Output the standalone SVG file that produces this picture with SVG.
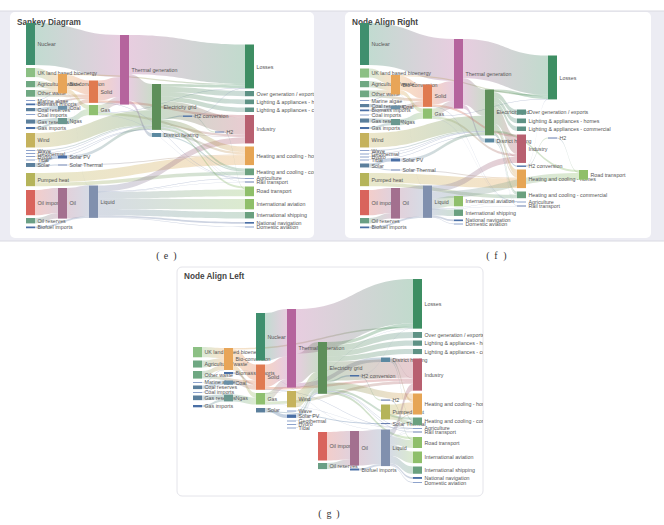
<svg xmlns="http://www.w3.org/2000/svg" width="664" height="525" viewBox="0 0 664 525">
<style>
.lk path{fill-opacity:.32}
.lk path.t{fill:#9aa8c4;fill-opacity:.55}
text{font-family:"Liberation Sans",Arial,sans-serif;font-size:5.3px;fill:#555;dominant-baseline:central}
text.ttl{font-size:8.2px;font-weight:bold;fill:#444;dominant-baseline:auto}
text.cap{font-family:"Liberation Serif","Times New Roman",serif;font-size:10px;fill:#333;text-anchor:middle;dominant-baseline:auto}
.nu{fill:#3f8f6e}.uk{fill:#8cc084}.aw{fill:#6fa882}.lb{fill:#8ea3cc}.db{fill:#4a6fa5}.cr{fill:#5b7f9c}.wi{fill:#c5b25c}.pu{fill:#b5b45a}.oi{fill:#d9645c}.or{fill:#6a9f85}.bc{fill:#e8a558}.co{fill:#6a90a8}.ng{fill:#6a9890}.mb{fill:#6a80b0}.ol{fill:#a3708f}.so{fill:#e07a50}.ga{fill:#8fc070}.lq{fill:#8090ae}.tg{fill:#b5649d}.eg{fill:#5e8f5a}.dh{fill:#5a88a0}.ls{fill:#3e8e63}.tl{fill:#5e9285}.in{fill:#b86070}.hh{fill:#e6a555}.hc{fill:#6aa07f}.rd{fill:#8fbf6a}
</style>
<defs>
<clipPath id="clipE"><rect x="10" y="12" width="304" height="226"/></clipPath>
<clipPath id="clipF"><rect x="345" y="12" width="306" height="226"/></clipPath>
<clipPath id="clipG"><rect x="177" y="267" width="306" height="229"/></clipPath>
<linearGradient id="Gnt"><stop offset="0" stop-color="#3f8f6e"/><stop offset="1" stop-color="#b5649d"/></linearGradient>
<linearGradient id="Gub"><stop offset="0" stop-color="#8cc084"/><stop offset="1" stop-color="#e8a558"/></linearGradient>
<linearGradient id="Gwb"><stop offset="0" stop-color="#6fa882"/><stop offset="1" stop-color="#e8a558"/></linearGradient>
<linearGradient id="Gws"><stop offset="0" stop-color="#6fa882"/><stop offset="1" stop-color="#e07a50"/></linearGradient>
<linearGradient id="Gbs"><stop offset="0" stop-color="#4a6fa5"/><stop offset="1" stop-color="#e07a50"/></linearGradient>
<linearGradient id="Gcc"><stop offset="0" stop-color="#5b7f9c"/><stop offset="1" stop-color="#6a90a8"/></linearGradient>
<linearGradient id="Ggn"><stop offset="0" stop-color="#5b7f95"/><stop offset="1" stop-color="#6a9890"/></linearGradient>
<linearGradient id="Gwe"><stop offset="0" stop-color="#c5b25c"/><stop offset="1" stop-color="#5e8f5a"/></linearGradient>
<linearGradient id="Gxe"><stop offset="0" stop-color="#7a90bb"/><stop offset="1" stop-color="#5e8f5a"/></linearGradient>
<linearGradient id="Gsp"><stop offset="0" stop-color="#5b7f95"/><stop offset="1" stop-color="#4a6fa5"/></linearGradient>
<linearGradient id="Gph"><stop offset="0" stop-color="#b5b45a"/><stop offset="1" stop-color="#e6a555"/></linearGradient>
<linearGradient id="Gpc"><stop offset="0" stop-color="#b5b45a"/><stop offset="1" stop-color="#6aa07f"/></linearGradient>
<linearGradient id="Goo"><stop offset="0" stop-color="#d9645c"/><stop offset="1" stop-color="#a3708f"/></linearGradient>
<linearGradient id="Gro"><stop offset="0" stop-color="#6a9f85"/><stop offset="1" stop-color="#a3708f"/></linearGradient>
<linearGradient id="Gbl"><stop offset="0" stop-color="#4a6fa5"/><stop offset="1" stop-color="#8090ae"/></linearGradient>
<linearGradient id="Gbo"><stop offset="0" stop-color="#e8a558"/><stop offset="1" stop-color="#e07a50"/></linearGradient>
<linearGradient id="Gbg"><stop offset="0" stop-color="#e8a558"/><stop offset="1" stop-color="#8fc070"/></linearGradient>
<linearGradient id="GbL"><stop offset="0" stop-color="#e8a558"/><stop offset="1" stop-color="#3e8e63"/></linearGradient>
<linearGradient id="Gcs"><stop offset="0" stop-color="#6a90a8"/><stop offset="1" stop-color="#e07a50"/></linearGradient>
<linearGradient id="Gng"><stop offset="0" stop-color="#6a9890"/><stop offset="1" stop-color="#8fc070"/></linearGradient>
<linearGradient id="Gth"><stop offset="0" stop-color="#6a80b0"/><stop offset="1" stop-color="#e6a555"/></linearGradient>
<linearGradient id="Gol"><stop offset="0" stop-color="#a3708f"/><stop offset="1" stop-color="#8090ae"/></linearGradient>
<linearGradient id="Gst"><stop offset="0" stop-color="#e07a50"/><stop offset="1" stop-color="#b5649d"/></linearGradient>
<linearGradient id="Gsi"><stop offset="0" stop-color="#e07a50"/><stop offset="1" stop-color="#b86070"/></linearGradient>
<linearGradient id="Ggt"><stop offset="0" stop-color="#8fc070"/><stop offset="1" stop-color="#b5649d"/></linearGradient>
<linearGradient id="Ggi"><stop offset="0" stop-color="#8fc070"/><stop offset="1" stop-color="#b86070"/></linearGradient>
<linearGradient id="Gli"><stop offset="0" stop-color="#8090ae"/><stop offset="1" stop-color="#b86070"/></linearGradient>
<linearGradient id="Glr"><stop offset="0" stop-color="#8090ae"/><stop offset="1" stop-color="#8fbf6a"/></linearGradient>
<linearGradient id="Gls"><stop offset="0" stop-color="#8090ae"/><stop offset="1" stop-color="#6aa07f"/></linearGradient>
<linearGradient id="Gln"><stop offset="0" stop-color="#8090ae"/><stop offset="1" stop-color="#5a70a0"/></linearGradient>
<linearGradient id="Gtl"><stop offset="0" stop-color="#b5649d"/><stop offset="1" stop-color="#3e8e63"/></linearGradient>
<linearGradient id="Gte"><stop offset="0" stop-color="#b5649d"/><stop offset="1" stop-color="#5e8f5a"/></linearGradient>
<linearGradient id="Gtd"><stop offset="0" stop-color="#b5649d"/><stop offset="1" stop-color="#5a88a0"/></linearGradient>
<linearGradient id="Gel"><stop offset="0" stop-color="#5e8f5a"/><stop offset="1" stop-color="#3e8e63"/></linearGradient>
<linearGradient id="Geo"><stop offset="0" stop-color="#5e8f5a"/><stop offset="1" stop-color="#5e9285"/></linearGradient>
<linearGradient id="Gei"><stop offset="0" stop-color="#5e8f5a"/><stop offset="1" stop-color="#b86070"/></linearGradient>
<linearGradient id="Geh"><stop offset="0" stop-color="#5e8f5a"/><stop offset="1" stop-color="#e6a555"/></linearGradient>
<linearGradient id="Gec"><stop offset="0" stop-color="#5e8f5a"/><stop offset="1" stop-color="#6aa07f"/></linearGradient>
<linearGradient id="Ger"><stop offset="0" stop-color="#5e8f5a"/><stop offset="1" stop-color="#8fbf6a"/></linearGradient>
<linearGradient id="Gex"><stop offset="0" stop-color="#5e8f5a"/><stop offset="1" stop-color="#4a6fa5"/></linearGradient>
<linearGradient id="Gdi"><stop offset="0" stop-color="#5a88a0"/><stop offset="1" stop-color="#b86070"/></linearGradient>
<linearGradient id="Gdh"><stop offset="0" stop-color="#5a88a0"/><stop offset="1" stop-color="#e6a555"/></linearGradient>
<linearGradient id="Gdc"><stop offset="0" stop-color="#5a88a0"/><stop offset="1" stop-color="#6aa07f"/></linearGradient>
<linearGradient id="Ghh"><stop offset="0" stop-color="#5a78aa"/><stop offset="1" stop-color="#8fbf6a"/></linearGradient>
</defs>

<rect width="664" height="525" fill="#fff"/>
<rect x="0" y="11" width="664" height="230" fill="#ececf3"/>
<line x1="0" y1="11" x2="664" y2="11" stroke="#dadae2" stroke-width="1"/>
<line x1="0" y1="241" x2="664" y2="241" stroke="#dadae2" stroke-width="1"/>
<rect x="10" y="12" width="304" height="226" rx="5" fill="#fff"/>
<rect x="345" y="12" width="306" height="226" rx="5" fill="#fff"/>
<rect x="177" y="267" width="306" height="229" rx="5" fill="#fff" stroke="#e4e4ea" stroke-width="1"/>

<!-- ================= PANEL E ================= -->
<g id="panel-e" clip-path="url(#clipE)">
<text class="ttl" x="17" y="25">Sankey Diagram</text>
<g id="e-links" class="lk">
<path fill="url(#Gnt)" d="M35 23C77.5 23 77.5 35 120 35V77C77.5 77 77.5 65 35 65Z"/>
<path fill="url(#Gub)" d="M35 68C46.5 68 46.5 74 58 74V83.1C46.5 83.1 46.5 77.1 35 77.1Z"/>
<path fill="url(#Gwb)" d="M35 81C46.5 81 46.5 83.1 58 83.1V89.34C46.5 89.34 46.5 87.24 35 87.24Z"/>
<path fill="url(#Gwb)" d="M35 90C46.5 90 46.5 89.34 58 89.34V93.23C46.5 93.23 46.5 93.89 35 93.89Z"/>
<path fill="url(#Gws)" d="M35 93.89C62 93.89 62 94.52 89 94.52V97.35C62 97.35 62 96.72 35 96.72Z"/>
<path class="t" d="M35 100C46.5 100 46.5 93.23 58 93.23V93.8C46.5 93.8 46.5 100.6 35 100.6Z"/>
<path fill="url(#Gbs)" d="M35 103.5C62 103.5 62 97.35 89 97.35V99.1C62 99.1 62 105.25 35 105.25Z"/>
<path fill="url(#Gcc)" d="M35 108C46.5 108 46.5 106 58 106V109.2C46.5 109.2 46.5 111.2 35 111.2Z"/>
<path class="t" d="M35 114C46.5 114 46.5 109.2 58 109.2V109.8C46.5 109.8 46.5 114.6 35 114.6Z"/>
<path fill="url(#Ggn)" d="M35 119.5C46.5 119.5 46.5 118 58 118V122.11C46.5 122.11 46.5 123.61 35 123.61Z"/>
<path fill="url(#Ggn)" d="M35 127C46.5 127 46.5 122.11 58 122.11V124.15C46.5 124.15 46.5 129.04 35 129.04Z"/>
<path fill="url(#Gwe)" d="M35 133C93.5 133 93.5 110.28 152 110.28V124.75C93.5 124.75 93.5 147.47 35 147.47Z"/>
<path fill="url(#Gxe)" d="M35 150C93.5 150 93.5 124.75 152 124.75V125.7C93.5 125.7 93.5 150.95 35 150.95Z"/>
<path class="t" d="M35 153C93.5 153 93.5 125.7 152 125.7V126.2C93.5 126.2 93.5 153.5 35 153.5Z"/>
<path class="t" d="M35 156C93.5 156 93.5 129.05 152 129.05V129.55C93.5 129.55 93.5 156.5 35 156.5Z"/>
<path class="t" d="M35 159.5C93.5 159.5 93.5 129.4 152 129.4V129.9C93.5 129.9 93.5 160 35 160Z"/>
<path fill="url(#Gsp)" d="M35 163C46.5 163 46.5 155.5 58 155.5V158.5C46.5 158.5 46.5 166 35 166Z"/>
<path fill="url(#Gsp)" d="M35 166C46.5 166 46.5 164.5 58 164.5V165.46C46.5 165.46 46.5 166.96 35 166.96Z"/>
<path fill="url(#Gph)" d="M35 173C140 173 140 155.46 245 155.46V165.11C140 165.11 140 182.65 35 182.65Z"/>
<path fill="url(#Gpc)" d="M35 182.65C140 182.65 140 171.68 245 171.68V175.21C140 175.21 140 186.18 35 186.18Z"/>
<path fill="url(#Goo)" d="M35 190C46.5 190 46.5 188 58 188V213.2C46.5 213.2 46.5 215.2 35 215.2Z"/>
<path fill="url(#Gro)" d="M35 218C46.5 218 46.5 213.2 58 213.2V218.59C46.5 218.59 46.5 223.39 35 223.39Z"/>
<path fill="url(#Gbl)" d="M35 226.5C62 226.5 62 216.13 89 216.13V217.88C62 217.88 62 228.25 35 228.25Z"/>
<path fill="url(#GbL)" d="M67 74C156 74 156 83.86 245 83.86V85.2C156 85.2 156 75.34 67 75.34Z"/>
<path fill="url(#Gbo)" d="M67 75.34C78 75.34 78 80.5 89 80.5V94.52C78 94.52 78 89.36 67 89.36Z"/>
<path fill="url(#Gbg)" d="M67 89.36C78 89.36 78 105 89 105V109.06C78 109.06 78 93.42 67 93.42Z"/>
<path class="t" d="M67 93.42C78 93.42 78 185.5 89 185.5V185.8C78 185.8 78 93.72 67 93.72Z"/>
<path fill="url(#Gcs)" d="M67 106C78 106 78 99.1 89 99.1V102.88C78 102.88 78 109.78 67 109.78Z"/>
<path fill="url(#Gng)" d="M67 118C78 118 78 109.06 89 109.06V115.21C78 115.21 78 124.15 67 124.15Z"/>
<path fill="url(#Gxe)" d="M67 155.5C109.5 155.5 109.5 126.05 152 126.05V129.05C109.5 129.05 109.5 158.5 67 158.5Z"/>
<path fill="url(#Gth)" d="M67 164.5C156 164.5 156 154.5 245 154.5V155.46C156 155.46 156 165.46 67 165.46Z"/>
<path fill="url(#Gol)" d="M67 188C78 188 78 185.53 89 185.53V216.13C78 216.13 78 218.6 67 218.6Z"/>
<path fill="url(#Gst)" d="M98 80.5C109 80.5 109 77 120 77V97C109 97 109 100.5 98 100.5Z"/>
<path fill="url(#Gsi)" d="M98 100.5C171.5 100.5 171.5 115 245 115V117.32C171.5 117.32 171.5 102.82 98 102.82Z"/>
<path class="t" d="M98 102.6C171.5 102.6 171.5 178 245 178V178.4C171.5 178.4 171.5 103 98 103Z"/>
<path fill="url(#Ggt)" d="M98 105C109 105 109 97 120 97V104.59C109 104.59 109 112.59 98 112.59Z"/>
<path class="t" d="M98 112.6C171.5 112.6 171.5 88 245 88V88.4C171.5 88.4 171.5 113 98 113Z"/>
<path fill="url(#Ggi)" d="M98 112.66C171.5 112.66 171.5 134.42 245 134.42V136.85C171.5 136.85 171.5 115.09 98 115.09Z"/>
<path class="t" d="M98 114.9C171.5 114.9 171.5 178.1 245 178.1V178.5C171.5 178.5 171.5 115.3 98 115.3Z"/>
<path fill="url(#Gli)" d="M98 185.5C171.5 185.5 171.5 137.38 245 137.38V143.43C171.5 143.43 171.5 191.55 98 191.55Z"/>
<path class="t" d="M98 191.55C171.5 191.55 171.5 178.36 245 178.36V178.76C171.5 178.76 171.5 191.95 98 191.95Z"/>
<path class="t" d="M98 191.73C171.5 191.73 171.5 181.89 245 181.89V182.3C171.5 182.3 171.5 192.13 98 192.13Z"/>
<path fill="url(#Glr)" d="M98 191.95C171.5 191.95 171.5 189.43 245 189.43V196.22C171.5 196.22 171.5 198.74 98 198.74Z"/>
<path fill="url(#Glr)" d="M98 198.74C171.5 198.74 171.5 199 245 199V209.31C171.5 209.31 171.5 209.05 98 209.05Z"/>
<path fill="url(#Gls)" d="M98 209.05C171.5 209.05 171.5 212 245 212V218.43C171.5 218.43 171.5 215.48 98 215.48Z"/>
<path fill="url(#Gln)" d="M98 215.48C171.5 215.48 171.5 222 245 222V223.66C171.5 223.66 171.5 217.14 98 217.14Z"/>
<path fill="url(#Gln)" d="M98 217.14C171.5 217.14 171.5 226.5 245 226.5V227.22C171.5 227.22 171.5 217.86 98 217.86Z"/>
<path fill="url(#Gtl)" d="M129 35C187 35 187 44.5 245 44.5V83.86C187 83.86 187 74.36 129 74.36Z"/>
<path fill="url(#Gte)" d="M129 74.36C140.5 74.36 140.5 84 152 84V110.28C140.5 110.28 140.5 100.64 129 100.64Z"/>
<path fill="url(#Gtd)" d="M129 100.64C140.5 100.64 140.5 133 152 133V136.97C140.5 136.97 140.5 104.61 129 104.61Z"/>
<path fill="url(#Gel)" d="M161 84C203 84 203 85.2 245 85.2V88.03C203 88.03 203 86.83 161 86.83Z"/>
<path fill="url(#Geo)" d="M161 86.83C203 86.83 203 91 245 91V96.22C203 96.22 203 92.05 161 92.05Z"/>
<path fill="url(#Geo)" d="M161 92.05C203 92.05 203 99.5 245 99.5V104.17C203 104.17 203 96.72 161 96.72Z"/>
<path fill="url(#Geo)" d="M161 96.72C203 96.72 203 107.5 245 107.5V112C203 112 203 101.22 161 101.22Z"/>
<path fill="url(#Gei)" d="M161 101.22C203 101.22 203 117.32 245 117.32V134.42C203 134.42 203 118.32 161 118.32Z"/>
<path fill="url(#Gex)" d="M161 118.32C172 118.32 172 115.5 183 115.5V116.86C172 116.86 172 119.68 161 119.68Z"/>
<path fill="url(#Geh)" d="M161 119.68C203 119.68 203 146.5 245 146.5V152.19C203 152.19 203 125.37 161 125.37Z"/>
<path fill="url(#Gec)" d="M161 125.37C203 125.37 203 168.5 245 168.5V170.54C203 170.54 203 127.41 161 127.41Z"/>
<path class="t" d="M161 127.41C203 127.41 203 178.04 245 178.04V178.44C203 178.44 203 127.81 161 127.81Z"/>
<path class="t" d="M161 127.63C203 127.63 203 181.5 245 181.5V181.9C203 181.9 203 128.03 161 128.03Z"/>
<path fill="url(#Ger)" d="M161 128.02C203 128.02 203 186.5 245 186.5V188.39C203 188.39 203 129.91 161 129.91Z"/>
<path fill="url(#Gdi)" d="M161 133C203 133 203 136.85 245 136.85V137.38C203 137.38 203 133.53 161 133.53Z"/>
<path fill="url(#Gdh)" d="M161 133.53C203 133.53 203 152.19 245 152.19V154.5C203 154.5 203 135.84 161 135.84Z"/>
<path fill="url(#Gdc)" d="M161 135.84C203 135.84 203 170.55 245 170.55V171.68C203 171.68 203 136.97 161 136.97Z"/>
<path class="t" d="M192 115.5C218.5 115.5 218.5 88.1 245 88.1V88.5C218.5 88.5 218.5 115.9 192 115.9Z"/>
<path fill="url(#Ghh)" d="M192 115.81C203.5 115.81 203.5 131.5 215 131.5V132.54C203.5 132.54 203.5 116.85 192 116.85Z"/>
<path fill="url(#Ghh)" d="M224 131.5C234.5 131.5 234.5 188.39 245 188.39V189.43C234.5 189.43 234.5 132.54 224 132.54Z"/>
</g>
<g id="e-nodes">
<g id="e-nuclear"><rect class="nu" x="26" y="23" width="9" height="42"/><text x="37.5" y="44">Nuclear</text></g>
<g id="e-ukland"><rect class="uk" x="26" y="68" width="9" height="9.1"/><text x="37.5" y="72.6">UK land based bioenergy</text></g>
<g id="e-agwaste"><rect class="aw" x="26" y="81" width="9" height="6.24"/><text x="37.5" y="84.1">Agricultural 'waste'</text></g>
<g id="e-otherwaste"><rect class="aw" x="26" y="90" width="9" height="6.72"/><text x="37.5" y="93.4">Other waste</text></g>
<g id="e-marine"><rect class="lb" x="26" y="100" width="9" height="1"/><text x="37.5" y="100.5">Marine algae</text></g>
<g id="e-biomass"><rect class="db" x="26" y="103.5" width="9" height="1.75"/><text x="37.5" y="104.4">Biomass imports</text></g>
<g id="e-coalres"><rect class="cr" x="26" y="108" width="9" height="3.2"/><text x="37.5" y="109.6">Coal reserves</text></g>
<g id="e-coalimp"><rect class="lb" x="26" y="114" width="9" height="1"/><text x="37.5" y="114.5">Coal imports</text></g>
<g id="e-gasres"><rect class="cr" x="26" y="119.5" width="9" height="4.11"/><text x="37.5" y="121.6">Gas reserves</text></g>
<g id="e-gasimp"><rect class="db" x="26" y="127" width="9" height="2.04"/><text x="37.5" y="128">Gas imports</text></g>
<g id="e-wind"><rect class="wi" x="26" y="133" width="9" height="14.47"/><text x="37.5" y="140.2">Wind</text></g>
<g id="e-wave"><rect class="lb" x="26" y="150" width="9" height="1"/><text x="37.5" y="150.5">Wave</text></g>
<g id="e-geo"><rect class="lb" x="26" y="153" width="9" height="1"/><text x="37.5" y="153.5">Geothermal</text></g>
<g id="e-hydro"><rect class="lb" x="26" y="156" width="9" height="1"/><text x="37.5" y="156.5">Hydro</text></g>
<g id="e-tidal"><rect class="lb" x="26" y="159.5" width="9" height="1"/><text x="37.5" y="160">Tidal</text></g>
<g id="e-solar"><rect class="cr" x="26" y="163" width="9" height="3.96"/><text x="37.5" y="165">Solar</text></g>
<g id="e-pumped"><rect class="pu" x="26" y="173" width="9" height="13.18"/><text x="37.5" y="179.6">Pumped heat</text></g>
<g id="e-oilimp"><rect class="oi" x="26" y="190" width="9" height="25.2"/><text x="37.5" y="202.6">Oil imports</text></g>
<g id="e-oilres"><rect class="or" x="26" y="218" width="9" height="5.39"/><text x="37.5" y="220.7">Oil reserves</text></g>
<g id="e-biofuel"><rect class="db" x="26" y="226.5" width="9" height="1.75"/><text x="37.5" y="227.4">Biofuel imports</text></g>
<g id="e-bioconv"><rect class="bc" x="58" y="74" width="9" height="19.45"/><text x="69.5" y="83.7">Bio-conversion</text></g>
<g id="e-coal"><rect class="co" x="58" y="106" width="9" height="3.78"/><text x="69.5" y="107.9">Coal</text></g>
<g id="e-ngas"><rect class="ng" x="58" y="118" width="9" height="6.15"/><text x="69.5" y="121.1">Ngas</text></g>
<g id="e-solarpv"><rect class="db" x="58" y="155.5" width="9" height="3"/><text x="69.5" y="157">Solar PV</text></g>
<g id="e-solarth"><rect class="mb" x="58" y="164.5" width="9" height="1"/><text x="69.5" y="165">Solar Thermal</text></g>
<g id="e-oil"><rect class="ol" x="58" y="188" width="9" height="30.6"/><text x="69.5" y="203.3">Oil</text></g>
<g id="e-solid"><rect class="so" x="89" y="80.5" width="9" height="22.38"/><text x="100.5" y="91.7">Solid</text></g>
<g id="e-gas"><rect class="ga" x="89" y="105" width="9" height="10.21"/><text x="100.5" y="110.1">Gas</text></g>
<g id="e-liquid"><rect class="lq" x="89" y="185.5" width="9" height="32.38"/><text x="100.5" y="201.7">Liquid</text></g>
<g id="e-thermal"><rect class="tg" x="120" y="35" width="9" height="69.59"/><text x="131.5" y="69.8">Thermal generation</text></g>
<g id="e-grid"><rect class="eg" x="152" y="84" width="9" height="45.87"/><text x="163.5" y="107">Electricity grid</text></g>
<g id="e-district"><rect class="dh" x="152" y="133" width="9" height="3.97"/><text x="163.5" y="135">District heating</text></g>
<g id="e-h2conv"><rect class="db" x="183" y="115.5" width="9" height="1.36"/><text x="194.5" y="116.2">H2 conversion</text></g>
<g id="e-h2"><rect class="mb" x="215" y="131.5" width="9" height="1.04"/><text x="226.5" y="132">H2</text></g>
<g id="e-losses"><rect class="ls" x="245" y="44.5" width="9" height="43.91"/><text x="256.5" y="66.5">Losses</text></g>
<g id="e-overgen"><rect class="tl" x="245" y="91" width="9" height="5.22"/><text x="256.5" y="93.6">Over generation / exports</text></g>
<g id="e-lah"><rect class="tl" x="245" y="99.5" width="9" height="4.67"/><text x="256.5" y="101.8">Lighting &amp; appliances - homes</text></g>
<g id="e-lac"><rect class="tl" x="245" y="107.5" width="9" height="4.5"/><text x="256.5" y="109.8">Lighting &amp; appliances - commercial</text></g>
<g id="e-industry"><rect class="in" x="245" y="115" width="9" height="28.43"/><text x="256.5" y="129.2">Industry</text></g>
<g id="e-hch"><rect class="hh" x="245" y="146.5" width="9" height="18.61"/><text x="256.5" y="155.8">Heating and cooling - homes</text></g>
<g id="e-hcc"><rect class="hc" x="245" y="168.5" width="9" height="6.71"/><text x="256.5" y="171.9">Heating and cooling - commercial</text></g>
<g id="e-agri"><rect class="lb" x="245" y="178" width="9" height="1"/><text x="256.5" y="178.3">Agriculture</text></g>
<g id="e-rail"><rect class="mb" x="245" y="181.5" width="9" height="1"/><text x="256.5" y="182.2">Rail transport</text></g>
<g id="e-road"><rect class="rd" x="245" y="186.5" width="9" height="9.72"/><text x="256.5" y="191.4">Road transport</text></g>
<g id="e-intav"><rect class="rd" x="245" y="199" width="9" height="10.31"/><text x="256.5" y="204.2">International aviation</text></g>
<g id="e-intship"><rect class="hc" x="245" y="212" width="9" height="6.43"/><text x="256.5" y="215.2">International shipping</text></g>
<g id="e-natnav"><rect class="db" x="245" y="222" width="9" height="1.66"/><text x="256.5" y="222.8">National navigation</text></g>
<g id="e-domav"><rect class="lb" x="245" y="226.5" width="9" height="1"/><text x="256.5" y="227">Domestic aviation</text></g>
</g>
</g>

<!-- ================= PANEL F ================= -->
<g id="panel-f" clip-path="url(#clipF)">
<text class="ttl" x="352" y="25">Node Align Right</text>
<g id="f-links" class="lk">
<path fill="url(#Gnt)" d="M369 23C411.5 23 411.5 39 454 39V81C411.5 81 411.5 65 369 65Z"/>
<path fill="url(#Gub)" d="M369 68.5C380 68.5 380 75 391 75V84.1C380 84.1 380 77.6 369 77.6Z"/>
<path fill="url(#Gwb)" d="M369 81C380 81 380 84.1 391 84.1V90.34C380 90.34 380 87.24 369 87.24Z"/>
<path fill="url(#Gwb)" d="M369 90.5C380 90.5 380 90.34 391 90.34V94.23C380 94.23 380 94.39 369 94.39Z"/>
<path fill="url(#Gws)" d="M369 94.39C396 94.39 396 98.52 423 98.52V101.35C396 101.35 396 97.22 369 97.22Z"/>
<path class="t" d="M369 100C380 100 380 94.23 391 94.23V94.8C380 94.8 380 100.6 369 100.6Z"/>
<path fill="url(#Gcc)" d="M369 104C380 104 380 105.5 391 105.5V108.7C380 108.7 380 107.2 369 107.2Z"/>
<path fill="url(#Gbs)" d="M369 109.5C396 109.5 396 105.13 423 105.13V106.88C396 106.88 396 111.25 369 111.25Z"/>
<path class="t" d="M369 114.5C380 114.5 380 108.7 391 108.7V109.28C380 109.28 380 115.08 369 115.08Z"/>
<path fill="url(#Ggn)" d="M369 118.5C380 118.5 380 119 391 119V123.11C380 123.11 380 122.61 369 122.61Z"/>
<path fill="url(#Ggn)" d="M369 127C380 127 380 123.11 391 123.11V125.15C380 125.15 380 129.04 369 129.04Z"/>
<path fill="url(#Gwe)" d="M369 133C427 133 427 115.78 485 115.78V130.25C427 130.25 427 147.47 369 147.47Z"/>
<path fill="url(#Gxe)" d="M369 150C427 150 427 130.25 485 130.25V131.2C427 131.2 427 150.95 369 150.95Z"/>
<path class="t" d="M369 153.5C427 153.5 427 131.2 485 131.2V131.7C427 131.7 427 154 369 154Z"/>
<path class="t" d="M369 156.5C427 156.5 427 131.55 485 131.55V132.05C427 132.05 427 157 369 157Z"/>
<path class="t" d="M369 159.5C427 159.5 427 134.9 485 134.9V135.4C427 135.4 427 160 369 160Z"/>
<path fill="url(#Gsp)" d="M369 163.5C380 163.5 380 158.5 391 158.5V161.5C380 161.5 380 166.5 369 166.5Z"/>
<path fill="url(#Gsp)" d="M369 166.5C380 166.5 380 169.5 391 169.5V170.46C380 170.46 380 167.46 369 167.46Z"/>
<path fill="url(#Gph)" d="M369 173C443 173 443 178.46 517 178.46V188.11C443 188.11 443 182.65 369 182.65Z"/>
<path fill="url(#Gpc)" d="M369 182.65C443 182.65 443 194.68 517 194.68V198.21C443 198.21 443 186.18 369 186.18Z"/>
<path fill="url(#Goo)" d="M369 190C380 190 380 188 391 188V213.2C380 213.2 380 215.2 369 215.2Z"/>
<path fill="url(#Gro)" d="M369 218C380 218 380 213.2 391 213.2V218.59C380 218.59 380 223.39 369 223.39Z"/>
<path fill="url(#Gbl)" d="M369 226.5C396 226.5 396 216.13 423 216.13V217.88C396 217.88 396 228.25 369 228.25Z"/>
<path fill="url(#GbL)" d="M400 75C474 75 474 94.86 548 94.86V96.2C474 96.2 474 76.34 400 76.34Z"/>
<path fill="url(#Gbo)" d="M400 76.34C411.5 76.34 411.5 84.5 423 84.5V98.52C411.5 98.52 411.5 90.36 400 90.36Z"/>
<path fill="url(#Gbg)" d="M400 90.36C411.5 90.36 411.5 108.5 423 108.5V112.56C411.5 112.56 411.5 94.42 400 94.42Z"/>
<path class="t" d="M400 94.42C411.5 94.42 411.5 185.5 423 185.5V185.8C411.5 185.8 411.5 94.72 400 94.72Z"/>
<path fill="url(#Gcs)" d="M400 105.5C411.5 105.5 411.5 101.35 423 101.35V105.13C411.5 105.13 411.5 109.28 400 109.28Z"/>
<path fill="url(#Gng)" d="M400 119C411.5 119 411.5 112.56 423 112.56V118.71C411.5 118.71 411.5 125.15 400 125.15Z"/>
<path fill="url(#Gxe)" d="M400 158.5C442.5 158.5 442.5 131.9 485 131.9V134.9C442.5 134.9 442.5 161.5 400 161.5Z"/>
<path fill="url(#Gth)" d="M400 169.5C458.5 169.5 458.5 177.5 517 177.5V178.46C458.5 178.46 458.5 170.46 400 170.46Z"/>
<path fill="url(#Gol)" d="M400 188C411.5 188 411.5 185.53 423 185.53V216.13C411.5 216.13 411.5 218.6 400 218.6Z"/>
<path fill="url(#Gst)" d="M432 84.5C443 84.5 443 81 454 81V101C443 101 443 104.5 432 104.5Z"/>
<path fill="url(#Gsi)" d="M432 104.5C474.5 104.5 474.5 134.5 517 134.5V136.82C474.5 136.82 474.5 106.82 432 106.82Z"/>
<path class="t" d="M432 106.6C474.5 106.6 474.5 201.5 517 201.5V201.9C474.5 201.9 474.5 107 432 107Z"/>
<path fill="url(#Ggt)" d="M432 108.5C443 108.5 443 101 454 101V108.59C443 108.59 443 116.09 432 116.09Z"/>
<path class="t" d="M432 116.1C490 116.1 490 99 548 99V99.4C490 99.4 490 116.5 432 116.5Z"/>
<path fill="url(#Ggi)" d="M432 116.16C474.5 116.16 474.5 153.92 517 153.92V156.35C474.5 156.35 474.5 118.59 432 118.59Z"/>
<path class="t" d="M432 118.4C474.5 118.4 474.5 201.7 517 201.7V202.1C474.5 202.1 474.5 118.8 432 118.8Z"/>
<path fill="url(#Gli)" d="M432 185.5C474.5 185.5 474.5 156.88 517 156.88V162.93C474.5 162.93 474.5 191.55 432 191.55Z"/>
<path fill="url(#Glr)" d="M432 191.55C505.5 191.55 505.5 172.93 579 172.93V179.72C505.5 179.72 505.5 198.34 432 198.34Z"/>
<path fill="url(#Glr)" d="M432 198.34C443 198.34 443 196 454 196V206.31C443 206.31 443 208.65 432 208.65Z"/>
<path class="t" d="M432 208.65C474.5 208.65 474.5 201.86 517 201.86V202.26C474.5 202.26 474.5 209.05 432 209.05Z"/>
<path class="t" d="M432 208.83C474.5 208.83 474.5 205.89 517 205.89V206.29C474.5 206.29 474.5 209.23 432 209.23Z"/>
<path fill="url(#Gls)" d="M432 209.05C443 209.05 443 209.5 454 209.5V215.93C443 215.93 443 215.48 432 215.48Z"/>
<path fill="url(#Gln)" d="M432 215.48C443 215.48 443 219.5 454 219.5V221.16C443 221.16 443 217.14 432 217.14Z"/>
<path fill="url(#Gln)" d="M432 217.14C443 217.14 443 223.5 454 223.5V224.22C443 224.22 443 217.86 432 217.86Z"/>
<path fill="url(#Gtl)" d="M463 39C505.5 39 505.5 55.5 548 55.5V94.86C505.5 94.86 505.5 78.36 463 78.36Z"/>
<path fill="url(#Gte)" d="M463 78.36C474 78.36 474 89.5 485 89.5V115.78C474 115.78 474 104.64 463 104.64Z"/>
<path fill="url(#Gtd)" d="M463 104.64C474 104.64 474 138.5 485 138.5V142.47C474 142.47 474 108.61 463 108.61Z"/>
<path fill="url(#Gel)" d="M494 89.5C521 89.5 521 96.2 548 96.2V99.03C521 99.03 521 92.33 494 92.33Z"/>
<path fill="url(#Geo)" d="M494 92.33C505.5 92.33 505.5 109.5 517 109.5V114.72C505.5 114.72 505.5 97.55 494 97.55Z"/>
<path fill="url(#Geo)" d="M494 97.55C505.5 97.55 505.5 118.5 517 118.5V123.17C505.5 123.17 505.5 102.22 494 102.22Z"/>
<path fill="url(#Geo)" d="M494 102.22C505.5 102.22 505.5 126.5 517 126.5V131C505.5 131 505.5 106.72 494 106.72Z"/>
<path fill="url(#Gei)" d="M494 106.72C505.5 106.72 505.5 136.82 517 136.82V153.92C505.5 153.92 505.5 123.82 494 123.82Z"/>
<path fill="url(#Gex)" d="M494 123.82C505.5 123.82 505.5 165.5 517 165.5V166.86C505.5 166.86 505.5 125.18 494 125.18Z"/>
<path fill="url(#Geh)" d="M494 125.18C505.5 125.18 505.5 169.5 517 169.5V175.19C505.5 175.19 505.5 130.87 494 130.87Z"/>
<path fill="url(#Ger)" d="M494 130.87C536.5 130.87 536.5 170 579 170V171.89C536.5 171.89 536.5 132.76 494 132.76Z"/>
<path fill="url(#Gec)" d="M494 132.76C505.5 132.76 505.5 191.5 517 191.5V193.54C505.5 193.54 505.5 134.8 494 134.8Z"/>
<path class="t" d="M494 134.8C505.5 134.8 505.5 201.54 517 201.54V201.94C505.5 201.94 505.5 135.2 494 135.2Z"/>
<path class="t" d="M494 135.02C505.5 135.02 505.5 205.5 517 205.5V205.9C505.5 205.9 505.5 135.42 494 135.42Z"/>
<path fill="url(#Gdi)" d="M494 138.5C505.5 138.5 505.5 156.35 517 156.35V156.88C505.5 156.88 505.5 139.03 494 139.03Z"/>
<path fill="url(#Gdh)" d="M494 139.03C505.5 139.03 505.5 175.19 517 175.19V177.5C505.5 177.5 505.5 141.34 494 141.34Z"/>
<path fill="url(#Gdc)" d="M494 141.34C505.5 141.34 505.5 193.55 517 193.55V194.68C505.5 194.68 505.5 142.47 494 142.47Z"/>
<path class="t" d="M526 165.5C537 165.5 537 99.1 548 99.1V99.5C537 99.5 537 165.9 526 165.9Z"/>
<path fill="url(#Ghh)" d="M526 165.81C537 165.81 537 137.5 548 137.5V138.54C537 138.54 537 166.85 526 166.85Z"/>
<path fill="url(#Ghh)" d="M557 137.5C568 137.5 568 171.89 579 171.89V172.93C568 172.93 568 138.54 557 138.54Z"/>
</g>
<g id="f-nodes">
<g id="f-nuclear"><rect class="nu" x="360" y="23" width="9" height="42"/><text x="371.5" y="44">Nuclear</text></g>
<g id="f-ukland"><rect class="uk" x="360" y="68.5" width="9" height="9.1"/><text x="371.5" y="73">UK land based bioenergy</text></g>
<g id="f-agwaste"><rect class="aw" x="360" y="81" width="9" height="6.24"/><text x="371.5" y="84.1">Agricultural 'waste'</text></g>
<g id="f-otherwaste"><rect class="aw" x="360" y="90.5" width="9" height="6.72"/><text x="371.5" y="93.9">Other waste</text></g>
<g id="f-marine"><rect class="lb" x="360" y="100" width="9" height="1"/><text x="371.5" y="100.5">Marine algae</text></g>
<g id="f-coalres"><rect class="cr" x="360" y="104" width="9" height="3.2"/><text x="371.5" y="105.6">Coal reserves</text></g>
<g id="f-biomass"><rect class="db" x="360" y="109.5" width="9" height="1.75"/><text x="371.5" y="110.4">Biomass imports</text></g>
<g id="f-coalimp"><rect class="lb" x="360" y="114.5" width="9" height="1"/><text x="371.5" y="115">Coal imports</text></g>
<g id="f-gasres"><rect class="cr" x="360" y="118.5" width="9" height="4.11"/><text x="371.5" y="120.6">Gas reserves</text></g>
<g id="f-gasimp"><rect class="db" x="360" y="127" width="9" height="2.04"/><text x="371.5" y="128">Gas imports</text></g>
<g id="f-wind"><rect class="wi" x="360" y="133" width="9" height="14.47"/><text x="371.5" y="140.2">Wind</text></g>
<g id="f-wave"><rect class="lb" x="360" y="150" width="9" height="1"/><text x="371.5" y="150.5">Wave</text></g>
<g id="f-geo"><rect class="lb" x="360" y="153.5" width="9" height="1"/><text x="371.5" y="154">Geothermal</text></g>
<g id="f-hydro"><rect class="lb" x="360" y="156.5" width="9" height="1"/><text x="371.5" y="157">Hydro</text></g>
<g id="f-tidal"><rect class="lb" x="360" y="159.5" width="9" height="1"/><text x="371.5" y="160">Tidal</text></g>
<g id="f-solar"><rect class="cr" x="360" y="163.5" width="9" height="3.96"/><text x="371.5" y="165.5">Solar</text></g>
<g id="f-pumped"><rect class="pu" x="360" y="173" width="9" height="13.18"/><text x="371.5" y="179.6">Pumped heat</text></g>
<g id="f-oilimp"><rect class="oi" x="360" y="190" width="9" height="25.2"/><text x="371.5" y="202.6">Oil imports</text></g>
<g id="f-oilres"><rect class="or" x="360" y="218" width="9" height="5.39"/><text x="371.5" y="220.7">Oil reserves</text></g>
<g id="f-biofuel"><rect class="db" x="360" y="226.5" width="9" height="1.75"/><text x="371.5" y="227.4">Biofuel imports</text></g>
<g id="f-bioconv"><rect class="bc" x="391" y="75" width="9" height="19.45"/><text x="402.5" y="84.7">Bio-conversion</text></g>
<g id="f-coal"><rect class="co" x="391" y="105.5" width="9" height="3.78"/><text x="402.5" y="107.4">Coal</text></g>
<g id="f-ngas"><rect class="ng" x="391" y="119" width="9" height="6.15"/><text x="402.5" y="122.1">Ngas</text></g>
<g id="f-solarpv"><rect class="db" x="391" y="158.5" width="9" height="3"/><text x="402.5" y="160">Solar PV</text></g>
<g id="f-solarth"><rect class="mb" x="391" y="169.5" width="9" height="1"/><text x="402.5" y="170">Solar Thermal</text></g>
<g id="f-oil"><rect class="ol" x="391" y="188" width="9" height="30.6"/><text x="402.5" y="203.3">Oil</text></g>
<g id="f-solid"><rect class="so" x="423" y="84.5" width="9" height="22.38"/><text x="434.5" y="95.7">Solid</text></g>
<g id="f-gas"><rect class="ga" x="423" y="108.5" width="9" height="10.21"/><text x="434.5" y="113.6">Gas</text></g>
<g id="f-liquid"><rect class="lq" x="423" y="185.5" width="9" height="32.38"/><text x="434.5" y="201.7">Liquid</text></g>
<g id="f-thermal"><rect class="tg" x="454" y="39" width="9" height="69.59"/><text x="465.5" y="73.8">Thermal generation</text></g>
<g id="f-intav"><rect class="rd" x="454" y="196" width="9" height="10.31"/><text x="465.5" y="201.2">International aviation</text></g>
<g id="f-intship"><rect class="hc" x="454" y="209.5" width="9" height="6.43"/><text x="465.5" y="212.7">International shipping</text></g>
<g id="f-natnav"><rect class="db" x="454" y="219.5" width="9" height="1.66"/><text x="465.5" y="220.3">National navigation</text></g>
<g id="f-domav"><rect class="lb" x="454" y="223.5" width="9" height="1"/><text x="465.5" y="224.2">Domestic aviation</text></g>
<g id="f-grid"><rect class="eg" x="485" y="89.5" width="9" height="45.87"/><text x="496.5" y="112.4">Electricity grid</text></g>
<g id="f-district"><rect class="dh" x="485" y="138.5" width="9" height="3.97"/><text x="496.5" y="140.5">District heating</text></g>
<g id="f-overgen"><rect class="tl" x="517" y="109.5" width="9" height="5.22"/><text x="528.5" y="112.1">Over generation / exports</text></g>
<g id="f-lah"><rect class="tl" x="517" y="118.5" width="9" height="4.67"/><text x="528.5" y="120.8">Lighting &amp; appliances - homes</text></g>
<g id="f-lac"><rect class="tl" x="517" y="126.5" width="9" height="4.5"/><text x="528.5" y="128.8">Lighting &amp; appliances - commercial</text></g>
<g id="f-industry"><rect class="in" x="517" y="134.5" width="9" height="28.43"/><text x="528.5" y="148.7">Industry</text></g>
<g id="f-h2conv"><rect class="db" x="517" y="165.5" width="9" height="1.36"/><text x="528.5" y="166.2">H2 conversion</text></g>
<g id="f-hch"><rect class="hh" x="517" y="169.5" width="9" height="18.61"/><text x="528.5" y="178.8">Heating and cooling - homes</text></g>
<g id="f-hcc"><rect class="hc" x="517" y="191.5" width="9" height="6.71"/><text x="528.5" y="194.9">Heating and cooling - commercial</text></g>
<g id="f-agri"><rect class="lb" x="517" y="201.5" width="9" height="1"/><text x="528.5" y="201.8">Agriculture</text></g>
<g id="f-rail"><rect class="mb" x="517" y="205.5" width="9" height="1"/><text x="528.5" y="206">Rail transport</text></g>
<g id="f-losses"><rect class="ls" x="548" y="55.5" width="9" height="43.91"/><text x="559.5" y="77.5">Losses</text></g>
<g id="f-h2"><rect class="mb" x="548" y="137.5" width="9" height="1.04"/><text x="559.5" y="137.8">H2</text></g>
<g id="f-road"><rect class="rd" x="579" y="170" width="9" height="9.72"/><text x="590.5" y="175.2">Road transport</text></g>
</g>
</g>

<!-- ================= PANEL G ================= -->
<g id="panel-g" clip-path="url(#clipG)">
<text class="ttl" x="184" y="279">Node Align Left</text>
<g id="g-links" class="lk">
<path fill="url(#Gub)" d="M202 347C213 347 213 348 224 348V358.28C213 358.28 213 357.28 202 357.28Z"/>
<path fill="url(#Gwb)" d="M202 360.5C213 360.5 213 358.28 224 358.28V365.33C213 365.33 213 367.55 202 367.55Z"/>
<path fill="url(#Gwb)" d="M202 371C213 371 213 365.33 224 365.33V369.73C213 369.73 213 375.4 202 375.4Z"/>
<path fill="url(#Gws)" d="M202 375.4C229 375.4 229 380.34 256 380.34V383.54C229 383.54 229 378.6 202 378.6Z"/>
<path class="t" d="M202 382C213 382 213 369.73 224 369.73V370.3C213 370.3 213 382.6 202 382.6Z"/>
<path fill="url(#Gcc)" d="M202 385.5C213 385.5 213 380.5 224 380.5V384.11C213 384.11 213 389.11 202 389.11Z"/>
<path class="t" d="M202 392C213 392 213 384.11 224 384.11V384.77C213 384.77 213 392.66 202 392.66Z"/>
<path fill="url(#Ggn)" d="M202 395.5C213 395.5 213 394.5 224 394.5V399.15C213 399.15 213 400.15 202 400.15Z"/>
<path fill="url(#Ggn)" d="M202 405C213 405 213 399.15 224 399.15V401.45C213 401.45 213 407.3 202 407.3Z"/>
<path fill="url(#GbL)" d="M233 348C323 348 323 326.67 413 326.67V328.19C323 328.19 323 349.52 233 349.52Z"/>
<path fill="url(#Gbo)" d="M233 349.52C244.5 349.52 244.5 364.5 256 364.5V380.34C244.5 380.34 244.5 365.36 233 365.36Z"/>
<path fill="url(#Gbg)" d="M233 365.36C244.5 365.36 244.5 393 256 393V397.58C244.5 397.58 244.5 369.94 233 369.94Z"/>
<path class="t" d="M233 369.94C307 369.94 307 429.5 381 429.5V429.8C307 429.8 307 370.24 233 370.24Z"/>
<path fill="url(#Gbs)" d="M233 372C244.5 372 244.5 383.54 256 383.54V385.52C244.5 385.52 244.5 373.98 233 373.98Z"/>
<path fill="url(#Gcs)" d="M233 380.5C244.5 380.5 244.5 385.52 256 385.52V389.79C244.5 389.79 244.5 384.77 233 384.77Z"/>
<path fill="url(#Gng)" d="M233 394.5C244.5 394.5 244.5 397.58 256 397.58V404.53C244.5 404.53 244.5 401.45 233 401.45Z"/>
<path fill="url(#Gnt)" d="M265 313C276 313 276 309 287 309V356.46C276 356.46 276 360.46 265 360.46Z"/>
<path fill="url(#Gst)" d="M265 364.5C276 364.5 276 356.46 287 356.46V379.07C276 379.07 276 387.11 265 387.11Z"/>
<path fill="url(#Gsi)" d="M265 387.11C339 387.11 339 378.43 413 378.43V381.06C339 381.06 339 389.74 265 389.74Z"/>
<path class="t" d="M265 389.5C339 389.5 339 428.2 413 428.2V428.6C339 428.6 339 389.9 265 389.9Z"/>
<path class="t" d="M265 393C339 393 339 328.4 413 328.4V328.8C339 328.8 339 393.4 265 393.4Z"/>
<path fill="url(#Ggt)" d="M265 393.08C276 393.08 276 379.07 287 379.07V387.65C276 387.65 276 401.66 265 401.66Z"/>
<path fill="url(#Ggi)" d="M265 401.66C339 401.66 339 381.06 413 381.06V383.8C339 383.8 339 404.4 265 404.4Z"/>
<path class="t" d="M265 404.2C339 404.2 339 428.3 413 428.3V428.7C339 428.7 339 404.6 265 404.6Z"/>
<path fill="url(#Gsp)" d="M265 408C276 408 276 414.5 287 414.5V417.88C276 417.88 276 411.38 265 411.38Z"/>
<path fill="url(#Gsp)" d="M265 411.38C323 411.38 323 423 381 423V424.09C323 424.09 323 412.47 265 412.47Z"/>
<path fill="url(#Gtl)" d="M296 309C354.5 309 354.5 279 413 279V323.47C354.5 323.47 354.5 353.47 296 353.47Z"/>
<path fill="url(#Gte)" d="M296 353.47C307 353.47 307 342 318 342V371.69C307 371.69 307 383.16 296 383.16Z"/>
<path fill="url(#Gtd)" d="M296 383.16C338.5 383.16 338.5 357.5 381 357.5V361.98C338.5 361.98 338.5 387.64 296 387.64Z"/>
<path fill="url(#Gwe)" d="M296 391C307 391 307 371.69 318 371.69V388.04C307 388.04 307 407.35 296 407.35Z"/>
<path fill="url(#Gxe)" d="M296 410.5C307 410.5 307 388.04 318 388.04V389.11C307 389.11 307 411.57 296 411.57Z"/>
<path fill="url(#Gxe)" d="M296 414.5C307 414.5 307 389.11 318 389.11V392.49C307 392.49 307 417.88 296 417.88Z"/>
<path class="t" d="M296 420.5C307 420.5 307 392.49 318 392.49V392.99C307 392.99 307 421 296 421Z"/>
<path class="t" d="M296 424C307 424 307 392.89 318 392.89V393.39C307 393.39 307 424.5 296 424.5Z"/>
<path class="t" d="M296 427.5C307 427.5 307 393.29 318 393.29V393.82C307 393.82 307 428.03 296 428.03Z"/>
<path fill="url(#Gel)" d="M327 342C370 342 370 323.47 413 323.47V326.67C370 326.67 370 345.2 327 345.2Z"/>
<path fill="url(#Geo)" d="M327 345.2C370 345.2 370 332 413 332V337.9C370 337.9 370 351.1 327 351.1Z"/>
<path fill="url(#Geo)" d="M327 351.1C370 351.1 370 340.5 413 340.5V345.78C370 345.78 370 356.38 327 356.38Z"/>
<path fill="url(#Geo)" d="M327 356.38C370 356.38 370 349 413 349V354.09C370 354.09 370 361.47 327 361.47Z"/>
<path fill="url(#Gei)" d="M327 361.47C370 361.47 370 358.5 413 358.5V377.83C370 377.83 370 380.8 327 380.8Z"/>
<path fill="url(#Gex)" d="M327 380.8C338.5 380.8 338.5 375 350 375V376.53C338.5 376.53 338.5 382.33 327 382.33Z"/>
<path fill="url(#Geh)" d="M327 382.33C370 382.33 370 393.5 413 393.5V399.93C370 399.93 370 388.76 327 388.76Z"/>
<path fill="url(#Gec)" d="M327 388.76C370 388.76 370 417.5 413 417.5V419.81C370 419.81 370 391.07 327 391.07Z"/>
<path class="t" d="M327 391.07C370 391.07 370 428 413 428V428.4C370 428.4 370 391.47 327 391.47Z"/>
<path class="t" d="M327 391.32C370 391.32 370 431.5 413 431.5V431.94C370 431.94 370 391.76 327 391.76Z"/>
<path fill="url(#Ger)" d="M327 391.76C370 391.76 370 437 413 437V439.14C370 439.14 370 393.9 327 393.9Z"/>
<path fill="url(#Goo)" d="M327 432C338.5 432 338.5 431 350 431V459.49C338.5 459.49 338.5 460.49 327 460.49Z"/>
<path fill="url(#Gro)" d="M327 463C338.5 463 338.5 459.49 350 459.49V465.58C338.5 465.58 338.5 469.09 327 469.09Z"/>
<path class="t" d="M359 375C386 375 386 328.19 413 328.19V328.6C386 328.6 386 375.4 359 375.4Z"/>
<path fill="url(#Ghh)" d="M359 375.35C370 375.35 370 399.5 381 399.5V400.68C370 400.68 370 376.53 359 376.53Z"/>
<path fill="url(#Gol)" d="M359 431C370 431 370 429.53 381 429.53V464.11C370 464.11 370 465.58 359 465.58Z"/>
<path fill="url(#Gbl)" d="M359 468.5C370 468.5 370 464.11 381 464.11V466.09C370 466.09 370 470.48 359 470.48Z"/>
<path fill="url(#Gdi)" d="M390 357.5C401.5 357.5 401.5 377.83 413 377.83V378.43C401.5 378.43 401.5 358.1 390 358.1Z"/>
<path fill="url(#Gdh)" d="M390 358.1C401.5 358.1 401.5 399.93 413 399.93V402.54C401.5 402.54 401.5 360.71 390 360.71Z"/>
<path fill="url(#Gdc)" d="M390 360.71C401.5 360.71 401.5 419.81 413 419.81V421.08C401.5 421.08 401.5 361.98 390 361.98Z"/>
<path fill="url(#Ghh)" d="M390 399.5C401.5 399.5 401.5 439.14 413 439.14V440.32C401.5 440.32 401.5 400.68 390 400.68Z"/>
<path fill="url(#Gph)" d="M390 404.5C401.5 404.5 401.5 402.54 413 402.54V413.45C401.5 413.45 401.5 415.41 390 415.41Z"/>
<path fill="url(#Gpc)" d="M390 415.41C401.5 415.41 401.5 421.09 413 421.09V425.08C401.5 425.08 401.5 419.4 390 419.4Z"/>
<path fill="url(#Gth)" d="M390 423C401.5 423 401.5 413.45 413 413.45V414.54C401.5 414.54 401.5 424.09 390 424.09Z"/>
<path fill="url(#Gli)" d="M390 429.5C401.5 429.5 401.5 383.8 413 383.8V390.64C401.5 390.64 401.5 436.34 390 436.34Z"/>
<path class="t" d="M390 436.34C401.5 436.34 401.5 428.42 413 428.42V428.82C401.5 428.82 401.5 436.74 390 436.74Z"/>
<path class="t" d="M390 436.55C401.5 436.55 401.5 431.94 413 431.94V432.34C401.5 432.34 401.5 436.95 390 436.95Z"/>
<path fill="url(#Glr)" d="M390 436.8C401.5 436.8 401.5 440.32 413 440.32V447.99C401.5 447.99 401.5 444.47 390 444.47Z"/>
<path fill="url(#Glr)" d="M390 444.47C401.5 444.47 401.5 451.5 413 451.5V463.15C401.5 463.15 401.5 456.12 390 456.12Z"/>
<path fill="url(#Gls)" d="M390 456.12C401.5 456.12 401.5 466.5 413 466.5V473.77C401.5 473.77 401.5 463.39 390 463.39Z"/>
<path fill="url(#Gln)" d="M390 463.39C401.5 463.39 401.5 477 413 477V478.88C401.5 478.88 401.5 465.27 390 465.27Z"/>
<path fill="url(#Gln)" d="M390 465.27C401.5 465.27 401.5 482 413 482V482.82C401.5 482.82 401.5 466.09 390 466.09Z"/>
</g>
<g id="g-nodes">
<g id="g-ukland"><rect class="uk" x="193" y="347" width="9" height="10.28"/><text x="204.5" y="352.1">UK land based bioenergy</text></g>
<g id="g-agwaste"><rect class="aw" x="193" y="360.5" width="9" height="7.05"/><text x="204.5" y="364">Agricultural 'waste'</text></g>
<g id="g-otherwaste"><rect class="aw" x="193" y="371" width="9" height="7.6"/><text x="204.5" y="374.8">Other waste</text></g>
<g id="g-marine"><rect class="lb" x="193" y="382" width="9" height="1"/><text x="204.5" y="382.3">Marine algae</text></g>
<g id="g-coalres"><rect class="cr" x="193" y="385.5" width="9" height="3.61"/><text x="204.5" y="387.3">Coal reserves</text></g>
<g id="g-coalimp"><rect class="lb" x="193" y="392" width="9" height="1"/><text x="204.5" y="392.4">Coal imports</text></g>
<g id="g-gasres"><rect class="cr" x="193" y="395.5" width="9" height="4.65"/><text x="204.5" y="397.8">Gas reserves</text></g>
<g id="g-gasimp"><rect class="db" x="193" y="405" width="9" height="2.3"/><text x="204.5" y="406.2">Gas imports</text></g>
<g id="g-bioconv"><rect class="bc" x="224" y="348" width="9" height="21.98"/><text x="235.5" y="359">Bio-conversion</text></g>
<g id="g-biomass"><rect class="db" x="224" y="372" width="9" height="1.98"/><text x="235.5" y="373">Biomass imports</text></g>
<g id="g-coal"><rect class="co" x="224" y="380.5" width="9" height="4.27"/><text x="235.5" y="382.9">Coal</text></g>
<g id="g-ngas"><rect class="ng" x="224" y="394.5" width="9" height="6.95"/><text x="235.5" y="398">Ngas</text></g>
<g id="g-nuclear"><rect class="nu" x="256" y="313" width="9" height="47.46"/><text x="267.5" y="336.7">Nuclear</text></g>
<g id="g-solid"><rect class="so" x="256" y="364.5" width="9" height="25.29"/><text x="267.5" y="377">Solid</text></g>
<g id="g-gas"><rect class="ga" x="256" y="393" width="9" height="11.53"/><text x="267.5" y="398.8">Gas</text></g>
<g id="g-solar"><rect class="cr" x="256" y="408" width="9" height="4.47"/><text x="267.5" y="410.3">Solar</text></g>
<g id="g-thermal"><rect class="tg" x="287" y="309" width="9" height="78.65"/><text x="298.5" y="348.3">Thermal generation</text></g>
<g id="g-wind"><rect class="wi" x="287" y="391" width="9" height="16.35"/><text x="298.5" y="399.2">Wind</text></g>
<g id="g-wave"><rect class="lb" x="287" y="410.5" width="9" height="1.07"/><text x="298.5" y="411">Wave</text></g>
<g id="g-solarpv"><rect class="db" x="287" y="414.5" width="9" height="3.38"/><text x="298.5" y="416.2">Solar PV</text></g>
<g id="g-geo"><rect class="lb" x="287" y="420.5" width="9" height="1"/><text x="298.5" y="420.8">Geothermal</text></g>
<g id="g-hydro"><rect class="lb" x="287" y="424" width="9" height="1"/><text x="298.5" y="424.3">Hydro</text></g>
<g id="g-tidal"><rect class="lb" x="287" y="427.5" width="9" height="1"/><text x="298.5" y="427.9">Tidal</text></g>
<g id="g-grid"><rect class="eg" x="318" y="342" width="9" height="51.82"/><text x="329.5" y="367.9">Electricity grid</text></g>
<g id="g-oilimp"><rect class="oi" x="318" y="432" width="9" height="28.49"/><text x="329.5" y="446.2">Oil imports</text></g>
<g id="g-oilres"><rect class="or" x="318" y="463" width="9" height="6.09"/><text x="329.5" y="466">Oil reserves</text></g>
<g id="g-h2conv"><rect class="db" x="350" y="375" width="9" height="1.53"/><text x="361.5" y="375.8">H2 conversion</text></g>
<g id="g-oil"><rect class="ol" x="350" y="431" width="9" height="34.58"/><text x="361.5" y="448.3">Oil</text></g>
<g id="g-biofuel"><rect class="db" x="350" y="468.5" width="9" height="1.98"/><text x="361.5" y="469.5">Biofuel imports</text></g>
<g id="g-district"><rect class="dh" x="381" y="357.5" width="9" height="4.48"/><text x="392.5" y="359.8">District heating</text></g>
<g id="g-h2"><rect class="mb" x="381" y="399.5" width="9" height="1.18"/><text x="392.5" y="400.1">H2</text></g>
<g id="g-pumped"><rect class="pu" x="381" y="404.5" width="9" height="14.9"/><text x="392.5" y="412">Pumped heat</text></g>
<g id="g-solarth"><rect class="mb" x="381" y="423" width="9" height="1.09"/><text x="392.5" y="423.5">Solar Thermal</text></g>
<g id="g-liquid"><rect class="lq" x="381" y="429.5" width="9" height="36.59"/><text x="392.5" y="447.8">Liquid</text></g>
<g id="g-losses"><rect class="ls" x="413" y="279" width="9" height="49.62"/><text x="424.5" y="303.8">Losses</text></g>
<g id="g-overgen"><rect class="tl" x="413" y="332" width="9" height="5.9"/><text x="424.5" y="335">Over generation / exports</text></g>
<g id="g-lah"><rect class="tl" x="413" y="340.5" width="9" height="5.28"/><text x="424.5" y="343.2">Lighting &amp; appliances - homes</text></g>
<g id="g-lac"><rect class="tl" x="413" y="349" width="9" height="5.09"/><text x="424.5" y="351.5">Lighting &amp; appliances - commercial</text></g>
<g id="g-industry"><rect class="in" x="413" y="358.5" width="9" height="32.14"/><text x="424.5" y="374.6">Industry</text></g>
<g id="g-hch"><rect class="hh" x="413" y="393.5" width="9" height="21.04"/><text x="424.5" y="404">Heating and cooling - homes</text></g>
<g id="g-hcc"><rect class="hc" x="413" y="417.5" width="9" height="7.58"/><text x="424.5" y="421.3">Heating and cooling - commercial</text></g>
<g id="g-agri"><rect class="lb" x="413" y="428" width="9" height="1"/><text x="424.5" y="428.3">Agriculture</text></g>
<g id="g-rail"><rect class="mb" x="413" y="431.5" width="9" height="1"/><text x="424.5" y="432">Rail transport</text></g>
<g id="g-road"><rect class="rd" x="413" y="437" width="9" height="10.99"/><text x="424.5" y="442.5">Road transport</text></g>
<g id="g-intav"><rect class="rd" x="413" y="451.5" width="9" height="11.65"/><text x="424.5" y="457.3">International aviation</text></g>
<g id="g-intship"><rect class="hc" x="413" y="466.5" width="9" height="7.27"/><text x="424.5" y="470.1">International shipping</text></g>
<g id="g-natnav"><rect class="db" x="413" y="477" width="9" height="1.88"/><text x="424.5" y="477.9">National navigation</text></g>
<g id="g-domav"><rect class="lb" x="413" y="482" width="9" height="1"/><text x="424.5" y="482.5">Domestic aviation</text></g>
</g>
</g>

<g id="captions">
<text class="cap" y="259"><tspan x="158">(</tspan><tspan x="166">e</tspan><tspan x="175">)</tspan></text>
<text class="cap" y="259"><tspan x="488">(</tspan><tspan x="496">f</tspan><tspan x="505">)</tspan></text>
<text class="cap" y="517"><tspan x="320">(</tspan><tspan x="329">g</tspan><tspan x="338">)</tspan></text>
</g>
</svg>
